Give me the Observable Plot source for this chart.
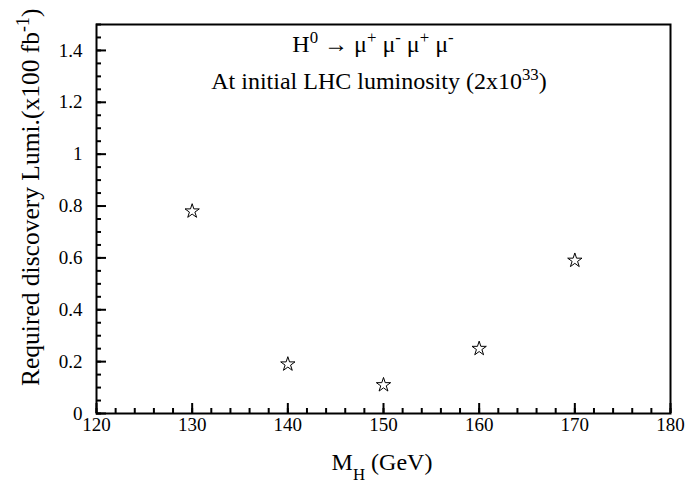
<!DOCTYPE html>
<html><head><meta charset="utf-8">
<script src="https://cdn.jsdelivr.net/npm/d3@7"></script>
<script src="https://cdn.jsdelivr.net/npm/@observablehq/plot@0.6"></script>
<style>
html,body{margin:0;padding:0;background:#fff;}
svg{font-family:"Liberation Serif","Times New Roman",serif;}
</style></head><body>
<div id="chart"></div>
<script>
const massH = [130, 140, 150, 160, 170];
const lumi = [0.78, 0.19, 0.11, 0.25, 0.59];
const xTicks = [120, 130, 140, 150, 160, 170, 180];
const xTickLabels = ["120", "130", "140", "150", "160", "170", "180"];
const yTicks = [0, 0.2, 0.4, 0.6, 0.8, 1.0, 1.2, 1.4];
const yTickLabels = ["0", "0.2", "0.4", "0.6", "0.8", "1", "1.2", "1.4"];
const xMinor = d3.range(120, 180.001, 2);
const yMinor = d3.range(0, 1.5001, 0.05);

const data = massH.map((m, i) => ({m, l: lumi[i]}));

const W = 686, H = 483, mL = 96, mR = 16, mT = 24, mB = 70;
const pw = W - mL - mR, ph = H - mT - mB;
const xDom = [120, 180], yDom = [0, 1.5];
// convert a pixel tick length into data units along each axis
const yLen = px => px / ph * (yDom[1] - yDom[0]);
const xLen = px => px / pw * (xDom[1] - xDom[0]);

const chart = Plot.plot({
  width: W, height: H,
  marginLeft: mL, marginRight: mR, marginTop: mT, marginBottom: mB,
  style: {fontFamily: "Liberation Serif", fontSize: "19px", background: "white", color: "black"},
  x: {domain: xDom},
  y: {domain: yDom},
  marks: [
    Plot.ruleX(xMinor, {x: d => d, y1: yDom[0], y2: yDom[0] + yLen(5), stroke: "black", strokeWidth: 2}),
    Plot.ruleX(xTicks, {x: d => d, y1: yDom[0], y2: yDom[0] + yLen(10), stroke: "black", strokeWidth: 2}),
    Plot.ruleY(yMinor, {y: d => d, x1: xDom[0], x2: xDom[0] + xLen(5), stroke: "black", strokeWidth: 2}),
    Plot.ruleY(yTicks, {y: d => d, x1: xDom[0], x2: xDom[0] + xLen(10), stroke: "black", strokeWidth: 2}),
    Plot.frame({stroke: "black", strokeWidth: 2}),
    Plot.axisX(xTicks, {tickSize: 0, tickPadding: 4, fontSize: 19,
      tickFormat: d => xTickLabels[xTicks.indexOf(d)], label: null}),
    Plot.axisY(yTicks, {tickSize: 0, tickPadding: 14, fontSize: 19,
      tickFormat: d => yTickLabels[yTicks.indexOf(d)], label: null}),
    Plot.dot(data, {x: "m", y: "l", symbol: "star", r: 4.5, fill: "white", stroke: "black", strokeWidth: 1})
  ]
});

document.getElementById("chart").appendChild(chart);
const svg = d3.select(chart);

function rich(x, y, size, parts, transform) {
  const t = svg.append("text").attr("text-anchor", transform ? "start" : "middle")
    .attr("font-size", size).attr("font-family", "Liberation Serif").attr("fill", "black");
  if (transform) t.attr("transform", transform); else t.attr("x", x).attr("y", y);
  parts.forEach(([s, shift]) => {
    const ts = t.append("tspan").text(s);
    if (shift) ts.attr("baseline-shift", shift).attr("font-size", "0.7em");
  });
  return t;
}
rich(373, 52, 24, [["H"], ["0", "super"], [" \u2192 \u03bc"], ["+", "super"], [" \u03bc"], ["-", "super"], [" \u03bc"], ["+", "super"], [" \u03bc"], ["-", "super"]]);
rich(379, 89, 24, [["At initial LHC luminosity (2x10"], ["33", "super"], [")"]]);
rich(382, 470, 24, [["M"], ["H", "sub"], [" (GeV)"]]);
rich(0, 0, 25.5, [["Required discovery Lumi.(x100 fb"], ["-1", "super"], [")"]], "translate(39,386) rotate(-90)");
</script>
</body></html>
